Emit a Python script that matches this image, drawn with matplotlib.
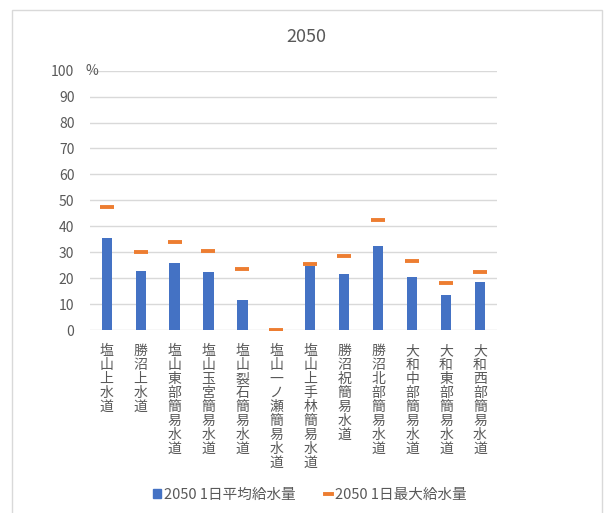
import matplotlib.pyplot as plt
from matplotlib.patches import Rectangle
from matplotlib.lines import Line2D

plt.rcParams['font.family'] = ['Noto Sans CJK JP', 'DejaVu Sans']

# 施設名と2050年の給水量(%)
names = ['塩山上水道', '勝沼上水道', '塩山東部簡易水道', '塩山玉宮簡易水道',
         '塩山裂石簡易水道', '塩山一ノ瀬簡易水道', '塩山上手林簡易水道',
         '勝沼祝簡易水道', '勝沼北部簡易水道', '大和中部簡易水道',
         '大和東部簡易水道', '大和西部簡易水道']
avg_supply = [35.4, 22.8, 26.0, 22.2, 11.6, 0.0, 24.8, 21.6, 32.5, 20.6, 13.5, 18.6]
max_supply = [47.3, 30.1, 33.8, 30.5, 23.5, 0.0, 25.6, 28.7, 42.3, 26.6, 18.0, 22.2]
yticks = [0, 10, 20, 30, 40, 50, 60, 70, 80, 90, 100]

W, H = 604, 513
fig = plt.figure(figsize=(W / 100, H / 100), dpi=100)

# chart border
fig.patches.append(Rectangle((12 / W, -0.1), 590 / W, 1.1 - 10 / H, transform=fig.transFigure,
                             fill=False, edgecolor='#d9d9d9', lw=1))

ax = fig.add_axes([89.7 / W, 1 - 330 / H, (497 - 89.7) / W, (330 - 70.7) / H])
x = range(len(names))
ax.bar(x, avg_supply, width=0.3, color='#4472c4', zorder=3)
ax.plot(x, max_supply, linestyle='none', marker='_', markersize=9.5, mew=2.8,
        color='#ed7d31', zorder=4)

ax.set_xlim(-0.5, len(names) - 0.5)
ax.set_ylim(0, 100)
ax.set_yticks(yticks)
ax.yaxis.grid(True, color='#d9d9d9', lw=1, zorder=0)
for s in ax.spines.values():
    s.set_visible(False)
ax.tick_params(length=0, colors='#595959', labelsize=10)
ax.tick_params(axis='y', pad=11)
ax.set_xticks(list(x))
ax.set_xticklabels(['\n'.join(n) for n in names], linespacing=1.0, fontsize=10, va='top')
ax.tick_params(axis='x', pad=10)

fig.text(85 / W, 1 - 70.7 / H, '%', ha='left', va='center', color='#595959', fontsize=10)
fig.text(306 / W, 1 - 37 / H, '2050', ha='center', va='center', color='#595959', fontsize=13)

handles = [Rectangle((0, 0), 1, 1, color='#4472c4'),
           Line2D([], [], color='#ed7d31', lw=2.8)]
fig.legend(handles, ['2050 1日平均給水量', '2050 1日最大給水量'], loc='center',
           bbox_to_anchor=(310 / W, 1 - 495 / H), ncol=2, frameon=False, fontsize=10.5,
           handlelength=0.5, handleheight=0.6, handletextpad=0.2, columnspacing=2.0,
           labelcolor='#595959')

fig.savefig('out.png', dpi=100)
